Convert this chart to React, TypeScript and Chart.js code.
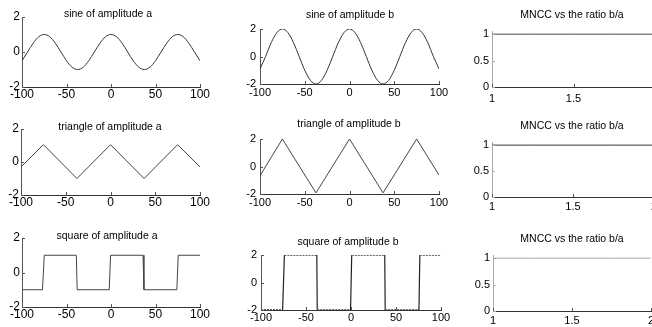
import React, { useEffect, useRef } from 'react';
import { Chart, registerables } from 'chart.js';

Chart.register(...registerables);

// ---- data ----
const waveX = [-100, -93.75, -87.5, -81.25, -75, -68.75, -62.5, -56.25, -50, -43.75, -37.5, -31.25, -25, -18.75, -12.5, -6.25, 0, 6.25, 12.5, 18.75, 25, 31.25, 37.5, 43.75, 50, 56.25, 62.5, 68.75, 75, 81.25, 87.5, 93.75, 100];
const sineA = [-0.5, 0, 0.5, 0.87, 1, 0.87, 0.5, 0, -0.5, -0.87, -1, -0.87, -0.5, 0, 0.5, 0.87, 1, 0.87, 0.5, 0, -0.5, -0.87, -1, -0.87, -0.5, 0, 0.5, 0.87, 1, 0.87, 0.5, 0, -0.5];
const sineB = [-0.9, 0, 1, 1.73, 2, 1.73, 1, 0, -1, -1.73, -2, -1.73, -1, 0, 1, 1.73, 2, 1.73, 1, 0, -1, -1.73, -2, -1.73, -1, 0, 1, 1.73, 2, 1.73, 1, 0, -0.9];

const triX = [-100, -75, -37.5, 0, 37.5, 75, 100];
const triA = [-0.3, 1.05, -1, 1.05, -1, 1.05, -0.3];
const triB = [-0.67, 2, -1.92, 2, -1.92, 2, -0.62];

const sqAX = [-100, -77, -75, -39, -38, -2, -0.5, 36, 37, 74, 75.5, 100];
const sqA = [-1, -1, 1, 1, -1, -1, 1, 1, -1, -1, 1, 1];
const sqBX = [-100, -76, -74, -38, -37.5, -0.5, 0.8, 37.5, 38, 75.5, 76.5, 100];
const sqB = [-2, -2, 2, 2, -2, -2, 2, 2, -2, -2, 2, 2];

const ratioX = [1, 1.25, 1.5, 1.75, 2];
const mncc1 = [1, 1, 1, 1, 1];
const mncc2 = [1, 1, 1, 1, 1];
const mncc3 = [1, 1, 1, 1, 1];

const waveXTicks = [-100, -50, 0, 50, 100];
const waveYTicks = [-2, 0, 2];
const ratioXTicks = [1, 1.5, 2];
const ratioYTicks = [0, 0.5, 1];

const titles = [
  'sine of amplitude a', 'sine of amplitude b', 'MNCC vs the ratio b/a',
  'triangle of amplitude a', 'triangle of amplitude b', 'MNCC vs the ratio b/a',
  'square of amplitude a', 'square of amplitude b', 'MNCC vs the ratio b/a',
];

// ---- layout (canvas pixels) ----
const W = 664;
const H = 327;

type Panel = {
  xs: number[]; ys: number[];
  L: number; R: number; T: number; B: number;
  xmin: number; xmax: number; ymin: number; ymax: number;
  xt: number[]; yt: number[];
  title: string; tx: number; ty: number;
  fs: number; color: string; yAxisColor: string;
  smooth?: boolean; textured?: boolean; xpad: number; ypad: number;
};

const wave = { xmin: -100, xmax: 100, ymin: -2, ymax: 2, xt: waveXTicks, yt: waveYTicks };
const ratio = { xmin: 1, xmax: 2, ymin: 0, ymax: 1.06, xt: ratioXTicks, yt: ratioYTicks };

const panels: Panel[] = [
  { xs: waveX, ys: sineA, L: 22, R: 200, T: 17, B: 87, ...wave, title: titles[0], tx: 108, ty: 14, fs: 12, color: '#333', yAxisColor: '#555', smooth: true, xpad: 0, ypad: 2 },
  { xs: waveX, ys: sineB, L: 260, R: 439, T: 29, B: 84, ...wave, title: titles[1], tx: 350, ty: 15, fs: 11, color: '#333', yAxisColor: '#555', smooth: true, xpad: 2, ypad: 4 },
  { xs: ratioX, ys: mncc1, L: 492, R: 655, T: 31, B: 87, ...ratio, title: titles[2], tx: 572, ty: 15, fs: 11, color: '#444', yAxisColor: '#aaa', xpad: 5, ypad: 3 },
  { xs: triX, ys: triA, L: 21, R: 200, T: 129, B: 195, ...wave, title: titles[3], tx: 110, ty: 127, fs: 12, color: '#444', yAxisColor: '#555', xpad: 0, ypad: 2 },
  { xs: triX, ys: triB, L: 260, R: 439, T: 139, B: 194, ...wave, title: titles[4], tx: 349, ty: 124, fs: 11, color: '#444', yAxisColor: '#555', xpad: 2, ypad: 4 },
  { xs: ratioX, ys: mncc2, L: 492, R: 654, T: 142, B: 197, ...ratio, title: titles[5], tx: 572, ty: 126, fs: 11, color: '#333', yAxisColor: '#aaa', xpad: 3, ypad: 3 },
  { xs: sqAX, ys: sqA, L: 22, R: 200, T: 238, B: 307, ...wave, title: titles[6], tx: 107, ty: 236, fs: 12, color: '#444', yAxisColor: '#555', xpad: 0, ypad: 2 },
  { xs: sqBX, ys: sqB, L: 261, R: 441, T: 255, B: 310, ...wave, title: titles[7], tx: 348, ty: 242, fs: 11, color: '#333', yAxisColor: '#555', textured: true, xpad: 1, ypad: 4 },
  { xs: ratioX, ys: mncc3, L: 493, R: 651, T: 255, B: 311, ...ratio, title: titles[8], tx: 572, ty: 239, fs: 11, color: '#aaa', yAxisColor: '#aaa', xpad: 3, ypad: 3 },
];

const FONT = '"Liberation Sans", Arial, Helvetica, sans-serif';

const decor = {
  id: 'decor',
  afterDraw(chart: any, _args: any, opts: any) {
    const { ctx, chartArea: a, scales } = chart;
    const x = scales.x;
    const y = scales.y;
    ctx.save();
    ctx.lineWidth = 1;
    ctx.strokeStyle = '#555';
    x.ticks.forEach((t: any) => {
      const px = Math.round(x.getPixelForValue(t.value)) + 0.5;
      ctx.beginPath();
      ctx.moveTo(px, a.bottom);
      ctx.lineTo(px, a.bottom - 3);
      ctx.stroke();
    });
    ctx.strokeStyle = opts.yColor;
    y.ticks.forEach((t: any) => {
      const py = Math.round(y.getPixelForValue(t.value)) + 0.5;
      ctx.beginPath();
      ctx.moveTo(a.left, py);
      ctx.lineTo(a.left + 3, py);
      ctx.stroke();
    });
    ctx.fillStyle = '#000';
    ctx.font = `10.5px ${FONT}`;
    ctx.textAlign = 'center';
    ctx.textBaseline = 'middle';
    ctx.fillText(opts.title, opts.tx, opts.ty);
    ctx.restore();
  },
};

function PanelChart({ p }: { p: Panel }) {
  const ref = useRef<HTMLCanvasElement>(null);
  useEffect(() => {
    const points = p.xs.map((xv, i) => ({ x: xv, y: p.ys[i] }));
    const flat = (c: any) => c.p0.parsed.y === c.p1.parsed.y;
    const chart = new Chart(ref.current as HTMLCanvasElement, {
      type: 'line',
      data: {
        datasets: [
          {
            data: points,
            borderColor: p.color,
            borderWidth: 1,
            pointRadius: 0,
            fill: false,
            cubicInterpolationMode: p.smooth ? 'monotone' : 'default',
            tension: 0,
            segment: p.textured
              ? {
                  borderColor: (c: any) => (flat(c) ? '#666' : '#222'),
                  borderDash: (c: any) => (flat(c) ? [2, 1] : []),
                  borderWidth: (c: any) => (flat(c) ? 2 : 1.2),
                }
              : undefined,
          } as any,
        ],
      },
      options: {
        animation: false,
        responsive: false,
        events: [],
        layout: { padding: { left: 0, top: p.T, right: W - p.R, bottom: 0 }, autoPadding: false } as any,
        plugins: {
          legend: { display: false },
          tooltip: { enabled: false },
          decor: { title: p.title, tx: p.tx, ty: p.ty, yColor: p.yAxisColor },
        } as any,
        scales: {
          x: {
            type: 'linear',
            min: p.xmin,
            max: p.xmax,
            afterBuildTicks: (s: any) => { s.ticks = p.xt.map((v) => ({ value: v })); },
            afterFit: (s: any) => { s.height = H - p.B; },
            grid: { display: true, drawOnChartArea: false, drawTicks: false },
            border: { display: true, color: '#333', width: 1 },
            ticks: {
              autoSkip: false,
              maxRotation: 0,
              minRotation: 0,
              padding: p.xpad,
              color: '#000',
              font: { family: FONT, size: p.fs },
              callback: (v: any) => String(v),
            },
          },
          y: {
            type: 'linear',
            min: p.ymin,
            max: p.ymax,
            afterBuildTicks: (s: any) => { s.ticks = p.yt.map((v) => ({ value: v })); },
            afterFit: (s: any) => { s.width = p.L; },
            grid: { display: true, drawOnChartArea: false, drawTicks: false },
            border: { display: true, color: p.yAxisColor, width: 1 },
            ticks: {
              autoSkip: false,
              padding: p.ypad,
              color: '#000',
              font: { family: FONT, size: p.fs },
              callback: (v: any) => String(v),
            },
          },
        },
      },
      plugins: [decor],
    });
    return () => chart.destroy();
  }, [p]);
  return (
    <canvas
      ref={ref}
      width={W}
      height={H}
      style={{ position: 'absolute', left: 0, top: 0, width: W, height: H, pointerEvents: 'none' }}
    />
  );
}

export default function App() {
  return (
    <div
      style={{
        position: 'absolute',
        left: 0,
        top: 0,
        width: 652,
        height: 327,
        overflow: 'hidden',
        background: '#fff',
      }}
    >
      {panels.map((p, i) => (
        <PanelChart key={i} p={p} />
      ))}
    </div>
  );
}
